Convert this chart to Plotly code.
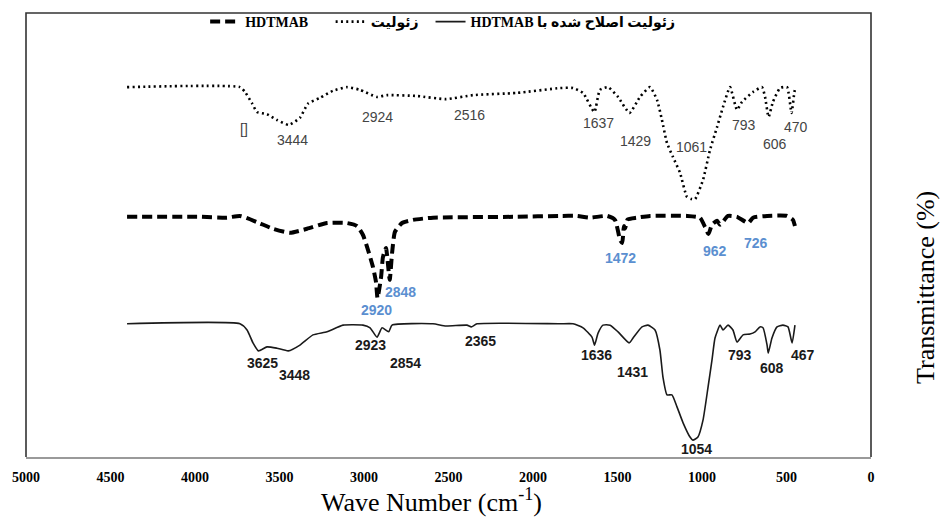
import plotly.graph_objects as go

# ---------------- data ----------------
# Zeolite (dotted)
zeo_wn = [4402, 3734, 3704, 3663, 3633, 3574, 3515, 3444, 3379, 3331, 3260, 3183, 3101, 3024,
          2924, 2864, 2686, 2516, 2355, 2095, 1840, 1763, 1704, 1637, 1604, 1556, 1497, 1429,
          1367, 1308, 1266, 1237, 1207, 1172, 1130, 1089, 1061, 1041, 994, 953, 911, 876, 834,
          793, 763, 698, 645, 627, 606, 580, 538, 497, 470, 450, 438]
zeo_t = [83.3, 83.3, 82.2, 79.7, 77.7, 77.2, 75.9, 74.8, 76.4, 79.6, 80.9, 82.5, 83.3, 82.7,
         81.1, 81.5, 81.3, 80.6, 81.5, 82.0, 83.1, 83.1, 82.0, 77.7, 82.7, 83.3, 81.1, 77.5,
         81.1, 83.3, 80.4, 75.9, 70.7, 67.6, 64.0, 58.6, 58.1, 58.1, 62.4, 69.1, 74.3, 78.8, 83.3,
         78.2, 80.0, 82.2, 83.3, 81.1, 76.6, 80.0, 83.1, 83.3, 77.5, 82.7, 83.1]

# HDTMAB (dashed)
hd_wn = [4402, 3970, 3811, 3734, 3633, 3538, 3438, 3337, 3219, 3101, 3041, 3006, 2976, 2947,
         2929, 2920, 2899, 2888, 2870, 2848, 2834, 2817, 2775, 2710, 2592, 2095, 1840, 1740,
         1663, 1562, 1515, 1485, 1472, 1462, 1455, 1440, 1385, 1308, 1089, 1012, 982, 962, 941,
         911, 893, 846, 793, 726, 698, 615, 497, 462, 450]
hd_t = [54.1, 54.1, 53.9, 54.3, 52.9, 51.4, 50.5, 51.4, 52.7, 52.7, 52.0, 50.0, 46.6, 42.8,
        39.4, 35.8, 40.5, 45.0, 47.1, 39.9, 45.9, 50.7, 52.7, 53.4, 53.9, 54.1, 54.3, 54.3,
        53.9, 54.3, 53.4, 48.9, 48.2, 52.0, 51.5, 53.5, 53.9, 54.3, 54.3, 53.9, 51.8, 50.2, 52.3,
        53.2, 52.3, 54.3, 54.1, 52.7, 53.9, 54.3, 54.3, 53.4, 52.0]

# Modified zeolite (solid)
mod_wn = [4402, 3734, 3692, 3657, 3625, 3574, 3515, 3448, 3379, 3302, 3219, 3124, 3006, 2964,
          2923, 2893, 2854, 2834, 2592, 2515, 2391, 2365, 2331, 1840, 1763, 1704, 1651, 1636,
          1615, 1586, 1544, 1497, 1431, 1408, 1355, 1320, 1278, 1249, 1231, 1207, 1178, 1148,
          1112, 1071, 1054, 1024, 994, 964, 941, 923, 893, 876, 846, 817, 793, 757, 716, 686,
          657, 639, 615, 608, 586, 556, 521, 491, 467, 450]
mod_t = [30.0, 30.0, 28.6, 25.7, 23.9, 24.8, 24.5, 23.9, 25.2, 27.5, 28.2, 29.7, 29.7, 29.1,
         27.0, 29.1, 28.2, 29.7, 30.0, 29.5, 29.7, 29.3, 30.0, 30.0, 30.0, 29.1, 27.0, 25.2,
         27.9, 29.7, 29.7, 28.2, 25.7, 26.8, 29.3, 29.7, 28.6, 24.1, 18.0, 14.0, 14.0, 11.3,
         7.7, 4.5, 3.8, 4.5, 8.3, 15.8, 21.8, 26.8, 29.7, 28.6, 29.7, 28.6, 25.9, 27.5, 27.7, 28.2,
         29.3, 29.1, 25.2, 23.4, 26.8, 29.3, 29.7, 29.3, 25.7, 29.7]

# Peak labels
zeo_lbl = ["[]", "3444", "2924", "2516", "1637", "1429", "1061", "793", "606", "470"]
zeo_lbl_x = [3710, 3426, 2923, 2373, 1615, 1396, 1065, 751, 568, 444]
zeo_lbl_y = [73.9, 71.4, 76.6, 77.0, 75.2, 71.2, 69.8, 74.8, 70.5, 74.3]

hd_lbl = ["2920", "2848", "1472", "962", "726"]
hd_lbl_x = [2929, 2787, 1485, 923, 680]
hd_lbl_y = [33.1, 37.2, 44.8, 46.4, 48.2]

mod_lbl = ["3625", "3448", "2923", "2854", "2365", "1636", "1431", "1054", "793", "608", "467"]
mod_lbl_x = [3598, 3414, 2959, 2757, 2308, 1627, 1414, 1030, 775, 586, 402]
mod_lbl_y = [21.2, 18.5, 25.2, 21.2, 26.1, 23.0, 19.1, 1.8, 23.0, 20.0, 23.0]

x_ticks = [5000, 4500, 4000, 3500, 3000, 2500, 2000, 1500, 1000, 500, 0]

name_hd = "HDTMAB\u00a0\u00a0\u00a0\u00a0\u00a0"
name_zeo = "زئولیت\u00a0\u00a0"
name_mod = "\u202Bزئولیت اصلاح شده با HDTMAB\u202C"

# ---------------- figure ----------------
SERIF = "Liberation Serif, Times New Roman, DejaVu Sans, serif"
SANS = "Liberation Sans, Arial, sans-serif"

fig = go.Figure()
fig.add_trace(go.Scatter(x=hd_wn, y=hd_t, mode="lines", name=name_hd,
                         line=dict(color="black", width=4, dash="10px,5px", shape="spline", smoothing=0.5)))
fig.add_trace(go.Scatter(x=zeo_wn, y=zeo_t, mode="lines", name=name_zeo,
                         line=dict(color="black", width=2.6, dash="2px,3.3px", shape="spline", smoothing=0.5)))
fig.add_trace(go.Scatter(x=mod_wn, y=mod_t, mode="lines", name=name_mod,
                         line=dict(color="#1a1a1a", width=1.6, shape="spline", smoothing=0.5)))

ann = []
for t, x, y in zip(zeo_lbl, zeo_lbl_x, zeo_lbl_y):
    ann.append(dict(x=x, y=y, text=t, showarrow=False,
                    font=dict(family=SANS, size=14, color="#444444")))
for t, x, y in zip(hd_lbl, hd_lbl_x, hd_lbl_y):
    ann.append(dict(x=x, y=y, text=t, showarrow=False,
                    font=dict(family=SANS, size=14, color="#5b8fd0", weight="bold")))
for t, x, y in zip(mod_lbl, mod_lbl_x, mod_lbl_y):
    ann.append(dict(x=x, y=y, text=t, showarrow=False,
                    font=dict(family=SANS, size=14, color="#1a1a1a", weight="bold")))

ann.append(dict(xref="paper", yref="paper", x=(431 - 26) / 845, y=-0.097,
                xanchor="center", yanchor="middle",
                text="Wave Number (cm<sup>-1</sup>)", showarrow=False,
                font=dict(family=SERIF, size=26, color="black")))
ann.append(dict(xref="paper", yref="paper", x=(925 - 26) / 845, y=(457 - 287) / 444,
                xanchor="center", yanchor="middle",
                text="Transmittance (%)", textangle=-90, showarrow=False,
                font=dict(family=SERIF, size=26, color="black")))

fig.update_layout(
    width=943, height=517,
    margin=dict(l=26, r=72, t=13, b=60, autoexpand=False),
    paper_bgcolor="white", plot_bgcolor="white",
    showlegend=True,
    legend=dict(orientation="h", x=0.212, y=(457 - 22) / 444, xanchor="left", yanchor="middle",
                bgcolor="rgba(0,0,0,0)", itemwidth=30,
                font=dict(family=SERIF, size=14, color="black", weight="bold")),
    xaxis=dict(range=[5000, 0], tickvals=x_ticks, ticktext=[str(v) for v in x_ticks],
               ticks="", showgrid=False, zeroline=False, ticklabelstandoff=6,
               showline=True, linecolor="#9a9a9a", linewidth=2,
               tickfont=dict(family=SERIF, size=14, color="black", weight="bold")),
    yaxis=dict(range=[0, 100], showticklabels=False, showgrid=False, zeroline=False,
               showline=False, ticks=""),
    annotations=ann,
    shapes=[dict(type="path", xref="paper", yref="paper",
                 path="M0,0 L0,1 L1,1 L1,0", line=dict(color="#333333", width=1.6),
                 layer="below")],
)

fig.write_html("out.html")
